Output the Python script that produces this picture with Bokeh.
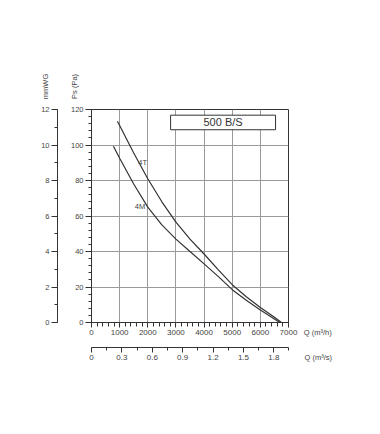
import math
from bokeh.plotting import figure
from bokeh.models import Range1d, LinearAxis, FixedTicker, Label, BoxAnnotation
from bokeh.embed import file_html
from bokeh.resources import INLINE

# ---- data ----
q_4t = [920, 1000, 1500, 2000, 2500, 3000, 3500, 4000, 4500, 5000, 5500, 6000, 6500, 6750]
ps_4t = [113.4, 111, 95.5, 81, 68, 56.5, 47, 38.6, 29.8, 21.3, 14.5, 8.5, 2.9, 0]
q_4m = [780, 1000, 1500, 2000, 2500, 3000, 3500, 4000, 4500, 5000, 5500, 6000, 6500, 6690]
ps_4m = [99.3, 92.5, 78, 65, 55, 47, 40, 33, 26, 18.5, 12.5, 7, 2, 0]

curve_names = ["4T", "4M"]
model_title = "500 B/S"

q_h_ticks = [0, 1000, 2000, 3000, 4000, 5000, 6000, 7000]
q_h_minor = list(range(0, 7001, 200))
ps_ticks = [0, 20, 40, 60, 80, 100, 120]
ps_minor = list(range(0, 121, 4))
mmwg_ticks = [0, 2, 4, 6, 8, 10, 12]
mmwg_minor = list(range(0, 13))
q_s_ticks = [0, 0.3, 0.6, 0.9, 1.2, 1.5, 1.8]
q_s_minor = [0, 0.15, 0.3, 0.45, 0.6, 0.75, 0.9, 1.05, 1.2, 1.35, 1.5, 1.65, 1.8, 7000 / 3600]

FONT = "Liberation Sans"
TXT = "#444444"
LINE = "#333333"

p = figure(width=380, height=434, output_backend="svg", toolbar_location=None,
           x_range=Range1d(0, 7000), y_range=Range1d(0, 120),
           min_border_left=91, min_border_right=92, min_border_top=109, min_border_bottom=112)
p.background_fill_color = "white"
p.border_fill_color = "white"
p.outline_line_color = LINE
p.outline_line_width = 1

p.extra_y_ranges = {"mm": Range1d(0, 12)}
p.extra_x_ranges = {"qs": Range1d(0, 7000 / 3600)}


def style(ax, ticks, minor, tick_out=5, minor_out=3, size="8px"):
    ax.ticker = FixedTicker(ticks=ticks, minor_ticks=minor)
    ax.major_tick_out = tick_out
    ax.major_tick_in = 0
    ax.minor_tick_out = minor_out
    ax.minor_tick_in = 0
    ax.major_tick_line_color = LINE
    ax.minor_tick_line_color = LINE
    ax.axis_line_color = LINE
    ax.axis_line_width = 1
    ax.major_label_text_font = FONT
    ax.major_label_text_font_size = size
    ax.major_label_text_color = TXT
    ax.major_label_standoff = 2


# primary x (m3/h)
xa = p.xaxis[0]
style(xa, q_h_ticks, q_h_minor, 5, 4)
xa.axis_label = " "
xa.axis_label_standoff = 0
xa.axis_label_text_font_size = "6.5px"

# primary y (Pa)
ya = p.yaxis[0]
style(ya, ps_ticks, ps_minor, 6, 3, "7.5px")
ya.axis_label = " "
ya.axis_label_standoff = 0
ya.axis_label_text_font_size = "7px"

# mmWG axis
mm = LinearAxis(y_range_name="mm")
style(mm, mmwg_ticks, mmwg_minor, 6, 3, "7.5px")
p.add_layout(mm, "left")

# m3/s axis
qs = LinearAxis(x_range_name="qs")
style(qs, q_s_ticks, q_s_minor, 5, 3)
p.add_layout(qs, "below")

p.xgrid.ticker = FixedTicker(ticks=q_h_ticks)
p.ygrid.ticker = FixedTicker(ticks=ps_ticks)
for g in (p.xgrid[0], p.ygrid[0]):
    g.grid_line_color = "#9a9a9a"
    g.grid_line_width = 1

p.line(q_4t, ps_4t, line_color=LINE, line_width=1.2)
p.line(q_4m, ps_4m, line_color=LINE, line_width=1.2)

p.add_layout(Label(x=1819, y=90.2, text=curve_names[0], text_font=FONT, text_font_size="7.5px",
                   text_color=TXT, text_align="center", text_baseline="middle"))
p.add_layout(Label(x=1723, y=65.3, text=curve_names[1], text_font=FONT, text_font_size="7.5px",
                   text_color=TXT, text_align="center", text_baseline="middle"))

p.add_layout(BoxAnnotation(left=2810, right=6540, bottom=108.6, top=116.8,
                           fill_color="white", fill_alpha=1, line_color=LINE, line_width=1, line_alpha=1))
p.add_layout(Label(x=4675, y=112.7, text=model_title, text_font=FONT, text_font_size="11px",
                   text_color="#333333", text_align="center", text_baseline="middle"))


def side_label(x, y, text, place, angle=0.0, align="left"):
    # data-unit label kept in a side panel so that it is not clipped to the frame
    p.add_layout(Label(x=x, y=y, text=text, angle=angle, text_font=FONT, text_font_size="7.5px",
                       text_color=TXT, text_align=align, text_baseline="middle"), place)


side_label(-1634, 133, "mmWG", "left", math.pi / 2, "center")
side_label(-604, 133, "Ps (Pa)", "left", math.pi / 2, "center")
side_label(7543, -5.5, "Q (m³/h)", "right")
side_label(7569, -19.6, "Q (m³/s)", "right")

open("out.html", "w").write(file_html(p, INLINE))
